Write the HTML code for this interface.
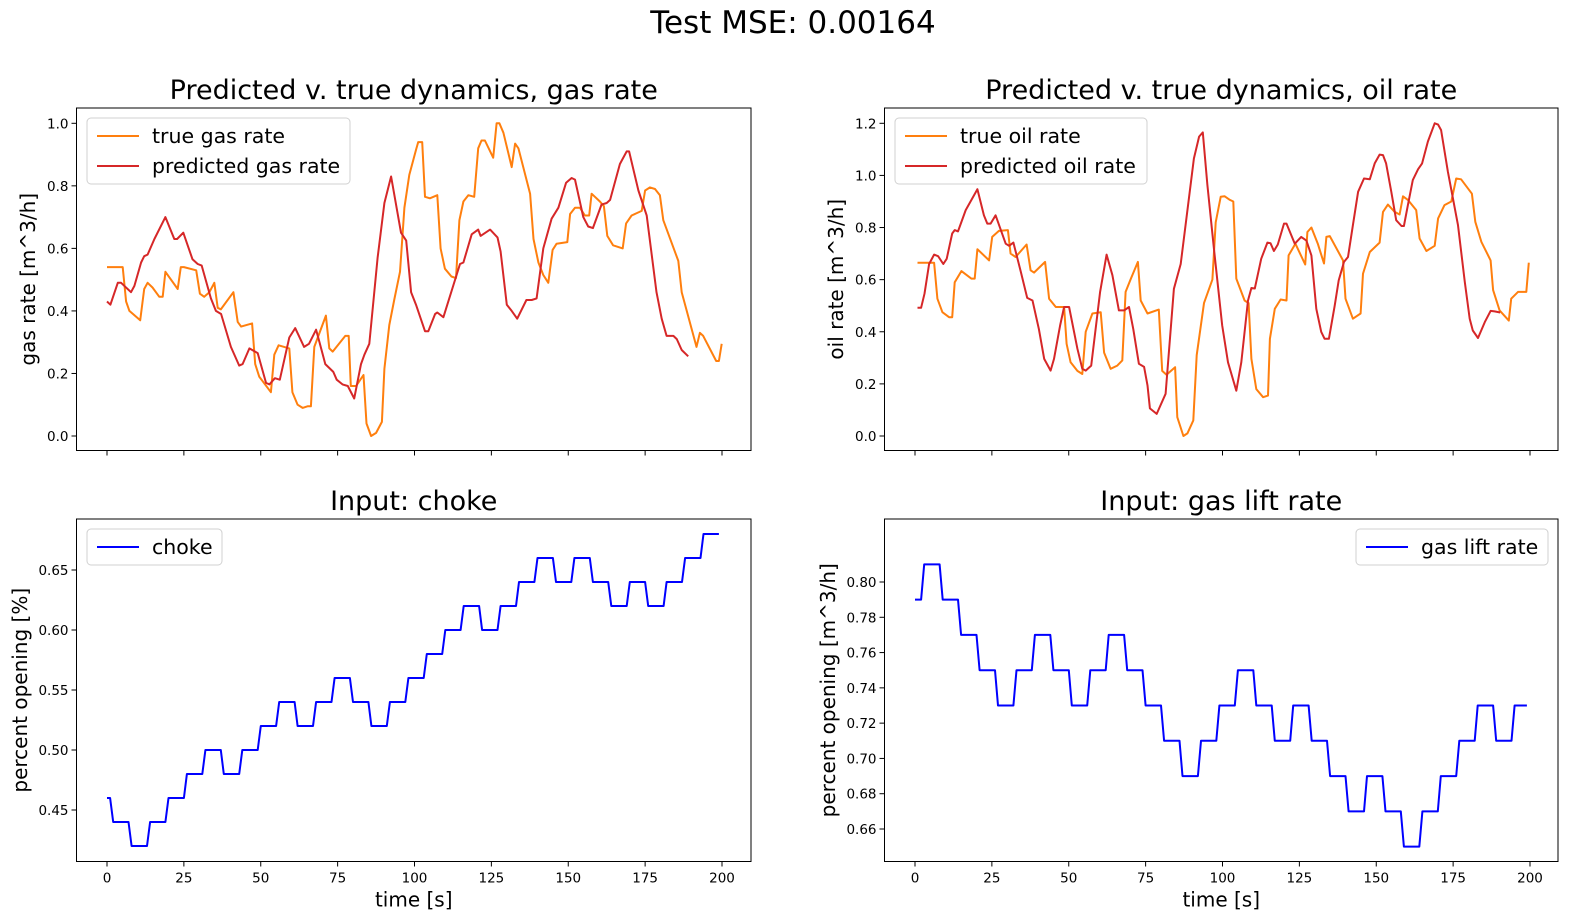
<!DOCTYPE html>
<html><head><meta charset="utf-8">
<style>
html,body{margin:0;padding:0;background:#fff;width:1574px;height:924px;overflow:hidden;}
svg{display:block;font-family:"DejaVu Sans","Liberation Sans",sans-serif;}
</style></head>
<body>
<svg id="fig" width="1574" height="924" viewBox="0 0 1574 924" xmlns="http://www.w3.org/2000/svg">
<text x="793" y="33" font-size="31" text-anchor="middle">Test MSE: 0.00164</text>
</svg>
<script>
// ---------- data ----------
const gasTrueT = [0,5.1,6.2,7.3,10.8,12.1,13.2,14.8,17,18.1,19,23,24,25,29,30.2,31.6,33.3,34.9,36,37,41.1,42.5,43.6,47.2,48.2,49.5,53.3,54.4,55.8,59.3,60.3,62,63.6,65.2,66.3,67.4,71.2,72.3,73.4,77.5,78.6,79.3,81,83.4,84.4,85.9,87.5,89.4,90.2,91.8,93.4,95.3,96.7,98.3,100.5,101.2,102.5,103.4,105,107.4,108.5,109.9,112,113.5,114.6,115.9,117.5,119.4,120.7,121.8,122.9,125.6,126.7,127.6,128.9,131.6,132.7,133.8,137.6,138.7,140.3,141.9,143.5,144.9,146.2,149.7,150.6,152.2,153.8,155.4,156.8,157.6,160.3,161.6,162.7,164.6,167.7,168.8,170.6,173.9,175,176.6,178.2,179.8,180.9,185.8,186.9,191.7,192.8,193.9,198.1,199,199.9];
const gasTrueV = [0.54,0.54,0.43,0.40,0.37,0.47,0.49,0.475,0.445,0.445,0.525,0.47,0.54,0.54,0.53,0.455,0.445,0.46,0.49,0.41,0.405,0.46,0.365,0.35,0.36,0.23,0.19,0.14,0.26,0.29,0.28,0.14,0.10,0.09,0.095,0.095,0.285,0.385,0.28,0.27,0.32,0.32,0.16,0.16,0.195,0.04,0.0,0.01,0.045,0.215,0.355,0.435,0.525,0.73,0.835,0.915,0.94,0.94,0.765,0.76,0.77,0.60,0.535,0.51,0.505,0.69,0.75,0.77,0.765,0.92,0.945,0.945,0.89,1.0,1.0,0.97,0.86,0.935,0.92,0.775,0.63,0.555,0.515,0.49,0.595,0.615,0.62,0.71,0.73,0.73,0.705,0.705,0.775,0.75,0.735,0.64,0.61,0.60,0.68,0.705,0.72,0.785,0.795,0.79,0.77,0.69,0.56,0.46,0.285,0.33,0.32,0.24,0.24,0.295];
const gasPredT = [0,1.1,3.5,4.6,7.8,8.9,11.1,12.1,13.2,15.4,19,21.9,22.8,24.8,27.8,29.5,30.8,33.8,35.4,37.1,40.3,43,44.1,46.3,49,51.7,52.8,54.6,56.2,59.3,61.2,64.1,65.7,68,69.1,71,73.6,74.7,76.6,78.3,80.4,82.6,83.7,85.3,88,90.2,92.4,95.6,97.3,98.9,100.5,103.4,104.5,106.7,107.4,109.4,114.8,115.9,118.6,120.7,121.5,124.6,127,128,130,131.6,133.4,136.4,138.1,139.7,141.9,144.6,146.8,149.3,151.1,152.2,154.9,156.5,158,160.8,162.5,163.6,166.8,169,169.8,172.8,175.5,178.7,180.4,182,184.2,185.3,186.9,189];
const gasPredV = [0.43,0.42,0.49,0.49,0.46,0.48,0.555,0.575,0.58,0.63,0.70,0.63,0.63,0.65,0.565,0.55,0.545,0.44,0.40,0.39,0.285,0.225,0.23,0.28,0.265,0.17,0.165,0.185,0.18,0.315,0.345,0.285,0.295,0.34,0.30,0.23,0.205,0.18,0.165,0.16,0.12,0.23,0.26,0.295,0.57,0.745,0.83,0.65,0.625,0.46,0.42,0.335,0.335,0.39,0.395,0.38,0.55,0.555,0.645,0.66,0.64,0.66,0.635,0.59,0.42,0.40,0.375,0.435,0.435,0.44,0.60,0.695,0.73,0.81,0.825,0.82,0.70,0.67,0.665,0.74,0.745,0.755,0.87,0.91,0.91,0.785,0.705,0.46,0.375,0.32,0.32,0.31,0.275,0.255];
const oilTrueT = [0.8,6.2,7.3,8.9,11.1,12.1,12.9,15.1,18.3,19.4,20.3,24.1,25.1,27.3,30.2,31.1,32.7,36.3,37.6,38.7,42.3,43.6,45.8,48.5,49.3,50.6,52.8,54.4,55.5,57.7,60.4,61.5,63.6,65.8,67.4,68.5,70.2,72.5,73.4,75.6,79.3,80.4,81.8,84.6,85.3,87.3,88.6,90.5,91.6,94,96.7,97.8,99.4,100.7,102.4,103.5,104.5,107.2,108.5,109.4,111,113.2,114.8,115.4,117,118.9,120.8,121.5,123.7,126.9,127.6,128.9,131,133,133.8,134.9,139.2,140,142.4,144.9,145.7,147.9,151.1,152.2,153.8,156,157.6,158.7,160.3,163,164.1,166.3,169,170.1,172.2,174.4,176,177.6,181.1,182.2,184.2,187.2,188,190.1,193.1,193.9,196.1,198.8,199.6];
const oilTrueV = [0.665,0.665,0.527,0.475,0.456,0.456,0.59,0.633,0.604,0.604,0.717,0.674,0.764,0.787,0.79,0.70,0.687,0.735,0.636,0.627,0.668,0.527,0.495,0.495,0.354,0.283,0.25,0.238,0.40,0.47,0.475,0.32,0.258,0.27,0.29,0.553,0.604,0.668,0.52,0.47,0.485,0.25,0.235,0.264,0.072,0.0,0.01,0.06,0.31,0.51,0.60,0.82,0.918,0.92,0.906,0.90,0.604,0.52,0.51,0.296,0.18,0.149,0.155,0.373,0.488,0.524,0.52,0.693,0.738,0.658,0.783,0.80,0.738,0.662,0.764,0.767,0.674,0.527,0.45,0.47,0.623,0.706,0.742,0.86,0.888,0.86,0.85,0.92,0.906,0.867,0.758,0.71,0.73,0.835,0.886,0.90,0.988,0.985,0.93,0.822,0.745,0.674,0.56,0.482,0.443,0.527,0.553,0.553,0.665];
const oilPredT = [0.8,2,3.1,4.6,6.2,7.5,9.2,10.3,12.1,12.9,14,16.5,20.3,22.4,23.5,24.6,26.2,29.5,30.6,32,34.4,36.5,38.2,40.3,42,44.1,45.2,47.2,48.5,50.1,52.8,54.4,55.5,57.3,60.2,62.3,64.2,66.3,68,69.6,71,72.8,74.5,75.6,76.4,78.6,81.5,84.2,86.4,90.7,92.4,93.6,95.1,97.2,99.9,101.8,104.5,106.1,108.3,109.4,110.5,112.6,114.6,115.6,116.7,118,120,120.8,121.8,123.5,125.6,127.3,128.9,130.5,132.1,133.2,134.6,136.5,137.8,139.5,140.8,142.4,144.1,146,147.9,149.5,151.1,152.2,153.2,154.9,156.5,158.2,159,160.3,161.9,163.6,164.9,166.8,169,170.1,171.1,173.3,176.6,178.8,180.4,181.4,183.1,185.3,187.2,188.5,190.3];
const oilPredV = [0.492,0.492,0.546,0.66,0.696,0.69,0.66,0.68,0.777,0.79,0.785,0.867,0.947,0.847,0.815,0.815,0.847,0.738,0.73,0.742,0.63,0.53,0.52,0.41,0.296,0.251,0.296,0.424,0.495,0.495,0.335,0.258,0.251,0.27,0.553,0.696,0.617,0.482,0.482,0.495,0.41,0.277,0.265,0.194,0.106,0.085,0.162,0.565,0.66,1.065,1.149,1.165,0.963,0.72,0.424,0.283,0.174,0.283,0.52,0.568,0.566,0.68,0.742,0.74,0.71,0.735,0.815,0.815,0.787,0.738,0.764,0.75,0.693,0.488,0.40,0.373,0.373,0.50,0.597,0.668,0.687,0.809,0.937,0.988,0.985,1.046,1.08,1.078,1.046,0.937,0.828,0.806,0.806,0.886,0.982,1.024,1.046,1.13,1.2,1.195,1.174,1.014,0.809,0.591,0.45,0.405,0.376,0.437,0.48,0.478,0.474];
const chokeStart = [0.46,0.46];
const chokeLevels = [0.44,0.42,0.44,0.46,0.48,0.50,0.48,0.50,0.52,0.54,0.52,0.54,0.56,0.54,0.52,0.54,0.56,0.58,0.60,0.62,0.60,0.62,0.64,0.66,0.64,0.66,0.64,0.62,0.64,0.62,0.64,0.66,0.68];
const liftStart = [0.79,0.79,0.79];
const liftLevels = [0.81,0.79,0.77,0.75,0.73,0.75,0.77,0.75,0.73,0.75,0.77,0.75,0.73,0.71,0.69,0.71,0.73,0.75,0.73,0.71,0.73,0.71,0.69,0.67,0.69,0.67,0.65,0.67,0.69,0.71,0.73,0.71,0.73];
const xTicks = [0,25,50,75,100,125,150,175,200];
const gasTicks = ["0.0","0.2","0.4","0.6","0.8","1.0"];
const oilTicks = ["0.0","0.2","0.4","0.6","0.8","1.0","1.2"];
const chokeTicks = ["0.45","0.50","0.55","0.60","0.65"];
const liftTicks = ["0.66","0.68","0.70","0.72","0.74","0.76","0.78","0.80"];

// ---------- drawing ----------
const NS = "http://www.w3.org/2000/svg";
const svg = document.getElementById('fig');
function mk(tag, attrs, parent){ const e=document.createElementNS(NS,tag); for(const k in attrs) e.setAttribute(k,attrs[k]); (parent||svg).appendChild(e); return e; }

function expand(start, levels, n){ const out=start.slice(); for(const l of levels){ for(let i=0;i<6 && out.length<n;i++) out.push(l);} return out; }

function panel(cfg){
  const g = mk('g',{});
  
  
  const {x0,x1,y0,y1} = cfg;
  const X = t => cfg.px0 + t * (cfg.px200 - cfg.px0) / 200;
  const Y = v => cfg.py0 + (v - cfg.v0) * (cfg.py1 - cfg.py0) / (cfg.v1 - cfg.v0);
  const tt = mk('text',{x:(x0+x1)/2,y:y0-9,'font-size':27,'text-anchor':'middle'},g);
  tt.textContent = cfg.title;
  
  
  for(const s of cfg.series){
    let d='';
    s.t.forEach((t,i)=>{ d += (i?'L':'M') + X(t).toFixed(1) + ',' + Y(s.v[i]).toFixed(1); });
    const p = mk('path',{d:d,fill:'none',stroke:s.color,'stroke-width':2,'stroke-linejoin':'round'},g);
    
    
  }
  const r = mk('rect',{x:x0,y:y0,width:x1-x0,height:y1-y0,fill:'none',stroke:'#000','stroke-width':1},g);
  
  
  for(const t of xTicks){
    const xx = X(t);
    mk('line',{x1:xx,x2:xx,y1:y1,y2:y1+5,stroke:'#000','stroke-width':1},g);
    if(cfg.xlabels){
      const tl = mk('text',{x:xx,y:y1+21,'font-size':13.5,'text-anchor':'middle'},g);
      tl.textContent = t;
      
      
    }
  }
  for(const lab of cfg.yticks){
    const yy = Y(parseFloat(lab));
    mk('line',{x1:x0-5,x2:x0,y1:yy,y2:yy,stroke:'#000','stroke-width':1},g);
    const tl = mk('text',{x:x0-8,y:yy+5,'font-size':13.5,'text-anchor':'end'},g);
    tl.textContent = lab;
    
    
  }
  const yl = mk('text',{x:0,y:0,'font-size':20,'text-anchor':'middle',transform:`translate(${cfg.ylx},${(y0+y1)/2}) rotate(-90)`},g);
  yl.textContent = cfg.ylabel;
  
  
  if(cfg.xlabels){
    const xl = mk('text',{x:(x0+x1)/2,y:y1+45,'font-size':20,'text-anchor':'middle'},g);
    xl.textContent = 'time [s]';
    
    
  }
  const L = cfg.legend;
  const lg = mk('g',{},g);
  
  
  mk('rect',{x:L.x,y:L.y,width:L.w,height:L.h,rx:4,fill:'#fff','fill-opacity':0.8,stroke:'#d0d0d0','stroke-width':1},lg);
  cfg.series.forEach((s,i)=>{
    const ly = L.y + 18 + i*30;
    mk('line',{x1:L.x+10,x2:L.x+52,y1:ly,y2:ly,stroke:s.color,'stroke-width':2},lg);
    const et = mk('text',{x:L.x+65,y:ly+7,'font-size':20.5},lg);
    et.textContent = s.label;
    
    
  });
}

const tIdx = Array.from({length:200},(_,i)=>i);
panel({name:'gas-rate-panel',title:'Predicted v. true dynamics, gas rate',x0:76.5,x1:751,y0:108,y1:450.5,
  px0:107,px200:722,v0:0,v1:1,py0:436,py1:123.3,yticks:gasTicks,ylabel:'gas rate [m^3/h]',ylx:35,xlabels:false,
  legend:{x:87,y:118,w:263,h:66},
  series:[{t:gasTrueT,v:gasTrueV,color:'#ff7f0e',label:'true gas rate',dname:'true-gas-rate-line'},
          {t:gasPredT,v:gasPredV,color:'#d62728',label:'predicted gas rate',dname:'predicted-gas-rate-line'}]});
panel({name:'oil-rate-panel',title:'Predicted v. true dynamics, oil rate',x0:884.5,x1:1558,y0:108,y1:450.5,
  px0:915,px200:1530,v0:0,v1:1.2,py0:436,py1:123.3,yticks:oilTicks,ylabel:'oil rate [m^3/h]',ylx:843,xlabels:false,
  legend:{x:895,y:118,w:252,h:66},
  series:[{t:oilTrueT,v:oilTrueV,color:'#ff7f0e',label:'true oil rate',dname:'true-oil-rate-line'},
          {t:oilPredT,v:oilPredV,color:'#d62728',label:'predicted oil rate',dname:'predicted-oil-rate-line'}]});
panel({name:'choke-panel',title:'Input: choke',x0:76.5,x1:751,y0:519,y1:861.5,
  px0:107,px200:722,v0:0.45,v1:0.65,py0:810,py1:570,yticks:chokeTicks,ylabel:'percent opening [%]',ylx:27,xlabels:true,
  legend:{x:87,y:529,w:135,h:36},
  series:[{t:tIdx,v:expand(chokeStart,chokeLevels,200),color:'#0000ff',label:'choke',dname:'choke-line'}]});
panel({name:'gas-lift-panel',title:'Input: gas lift rate',x0:884.5,x1:1558,y0:519,y1:861.5,
  px0:915,px200:1530,v0:0.66,v1:0.80,py0:829,py1:582,yticks:liftTicks,ylabel:'percent opening [m^3/h]',ylx:835,xlabels:true,
  legend:{x:1356,y:529,w:192,h:36},
  series:[{t:tIdx,v:expand(liftStart,liftLevels,200),color:'#0000ff',label:'gas lift rate',dname:'gas-lift-rate-line'}]});
</script>
</body></html>
